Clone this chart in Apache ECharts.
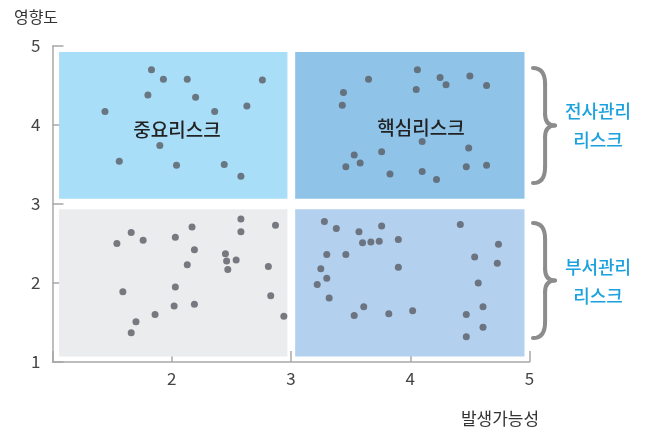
<!DOCTYPE html>
<html><head><meta charset="utf-8">
<script src="https://cdn.jsdelivr.net/npm/echarts@6/dist/echarts.min.js"></script>
<style>html,body{margin:0;padding:0;background:#fff}#c{width:649px;height:433px}</style>
</head><body><div id="c"></div>
<script>
const xTicks = [1, 2, 3, 4, 5];
const yTicks = [1, 2, 3, 4, 5];
const quadrantNames = ['중요리스크', '핵심리스크'];
const sideNames = ['전사관리\n리스크', '부서관리\n리스크'];
const xAxisName = '발생가능성';
const yAxisName = '영향도';

const pointsTopLeft = [[1.83,4.70],[1.93,4.58],[2.13,4.58],[2.76,4.57],[1.80,4.38],[2.20,4.35],[1.44,4.17],[2.36,4.17],[2.63,4.24],[1.90,3.74],[1.56,3.54],[2.04,3.49],[2.44,3.50],[2.58,3.35]];
const pointsTopRight = [[4.06,4.70],[3.65,4.58],[4.25,4.60],[4.50,4.62],[4.30,4.51],[4.64,4.50],[3.44,4.41],[4.05,4.45],[3.43,4.25],[4.10,3.79],[4.49,3.71],[3.76,3.66],[3.53,3.62],[3.58,3.52],[3.46,3.47],[4.47,3.47],[4.64,3.49],[3.83,3.38],[4.10,3.41],[4.22,3.31]];
const pointsBottomLeft = [[2.58,2.81],[2.87,2.73],[2.17,2.71],[2.58,2.65],[1.66,2.64],[2.03,2.58],[1.76,2.54],[1.54,2.50],[2.19,2.42],[2.45,2.37],[2.46,2.28],[2.54,2.29],[2.13,2.23],[2.47,2.17],[2.81,2.21],[2.03,1.95],[1.59,1.89],[2.83,1.84],[2.02,1.71],[2.19,1.73],[1.86,1.60],[2.94,1.58],[1.70,1.51],[1.66,1.37]];
const pointsBottomRight = [[3.28,2.78],[3.38,2.69],[3.57,2.65],[3.76,2.72],[3.60,2.51],[3.67,2.52],[3.74,2.53],[3.90,2.55],[3.30,2.36],[3.46,2.36],[3.25,2.18],[3.90,2.20],[3.30,2.06],[3.22,1.98],[3.32,1.81],[3.61,1.70],[3.53,1.59],[3.82,1.61],[4.02,1.65],[4.42,2.74],[4.74,2.49],[4.54,2.33],[4.73,2.25],[4.57,2.00],[4.61,1.70],[4.47,1.60],[4.61,1.44],[4.47,1.32]];

// quadrant extents (data units)
const qx = [[1.055, 2.97], [3.035, 4.958]];
const qy = [[1.07, 2.935], [3.065, 4.925]];
const qColors = { tl: '#a9def8', tr: '#8fc4e8', bl: '#ebeced', br: '#b3d1ee' };

const chart = echarts.init(document.getElementById('c'), null, { renderer: 'canvas' });
const font = '"Noto Sans CJK KR", "Noto Sans", sans-serif';

function brace(x0, y0, y1, w) {
  const h = y1 - y0, ym = (y0 + y1) / 2, xm = x0 + w * 0.55;
  const st = { stroke: '#8c8c8c', lineWidth: 4, fill: null, lineCap: 'round' };
  const bz = (a, b, c, d, e, f) => ({ type: 'bezierCurve', shape: { x1: a, y1: b, cpx1: c, cpy1: d, x2: e, y2: f }, style: st });
  const ln = (a, b, c, d) => ({ type: 'line', shape: { x1: a, y1: b, x2: c, y2: d }, style: st });
  return [
    bz(x0, y0, xm, y0, xm, y0 + h * 0.14),
    ln(xm, y0 + h * 0.14, xm, ym - h * 0.1),
    bz(xm, ym - h * 0.1, xm, ym, x0 + w, ym),
    bz(x0 + w, ym, xm, ym, xm, ym + h * 0.1),
    ln(xm, ym + h * 0.1, xm, y1 - h * 0.14),
    bz(xm, y1 - h * 0.14, xm, y1, x0, y1)
  ];
}

const ptStyle = { color: '#595d64' };
chart.setOption({
  animation: false,
  grid: { left: 52.5, right: 119.5, top: 46, bottom: 71, containLabel: false },
  xAxis: {
    type: 'value', min: xTicks[0], max: xTicks[xTicks.length - 1], interval: 1,
    axisLine: { show: true, lineStyle: { color: '#a8a8a8', width: 1.5 } },
    axisTick: { show: true, inside: true, length: 11, lineStyle: { color: '#a8a8a8', width: 1.5 } },
    axisLabel: { color: '#444', fontSize: 17, fontFamily: font, margin: 8, formatter: v => v === 1 ? '' : String(v) },
    splitLine: { show: false }
  },
  yAxis: {
    type: 'value', min: yTicks[0], max: yTicks[yTicks.length - 1], interval: 1,
    axisLine: { show: true, lineStyle: { color: '#a8a8a8', width: 1.5 } },
    axisTick: { show: true, inside: true, length: 11, lineStyle: { color: '#a8a8a8', width: 1.5 } },
    axisLabel: { color: '#444', fontSize: 17, fontFamily: font, margin: 12 },
    splitLine: { show: false }
  },
  series: [
    {
      type: 'scatter', symbolSize: 7, itemStyle: ptStyle, data: pointsTopLeft, z: 5,
      markArea: {
        silent: true,
        data: [
          [{ coord: [qx[0][0], qy[1][0]], itemStyle: { color: qColors.tl } }, { coord: [qx[0][1], qy[1][1]] }],
          [{ coord: [qx[1][0], qy[1][0]], itemStyle: { color: qColors.tr } }, { coord: [qx[1][1], qy[1][1]] }],
          [{ coord: [qx[0][0], qy[0][0]], itemStyle: { color: qColors.bl } }, { coord: [qx[0][1], qy[0][1]] }],
          [{ coord: [qx[1][0], qy[0][0]], itemStyle: { color: qColors.br } }, { coord: [qx[1][1], qy[0][1]] }]
        ]
      }
    },
    { type: 'scatter', symbolSize: 7, itemStyle: ptStyle, data: pointsTopRight, z: 5 },
    { type: 'scatter', symbolSize: 7, itemStyle: ptStyle, data: pointsBottomLeft, z: 5 },
    { type: 'scatter', symbolSize: 7, itemStyle: ptStyle, data: pointsBottomRight, z: 5 }
  ],
  graphic: [
    { type: 'text', x: 36, y: 17, style: { text: yAxisName, fontSize: 16, fontFamily: font, fill: '#333', align: 'center', verticalAlign: 'middle' } },
    { type: 'text', x: 500, y: 419, style: { text: xAxisName, fontSize: 17, fontFamily: font, fill: '#333', align: 'center', verticalAlign: 'middle' } },
    { type: 'text', x: 177, y: 130, z: 10, style: { text: quadrantNames[0], fontSize: 19, fontWeight: 500, fontFamily: font, fill: '#222', align: 'center', verticalAlign: 'middle' } },
    { type: 'text', x: 421, y: 128, z: 10, style: { text: quadrantNames[1], fontSize: 19, fontWeight: 500, fontFamily: font, fill: '#222', align: 'center', verticalAlign: 'middle' } },
    ...brace(533, 68, 183, 22),
    ...brace(533, 223, 338, 22),
    { type: 'text', x: 598, y: 126, style: { text: sideNames[0], fontSize: 18, fontWeight: 500, fontFamily: font, fill: '#1ba1de', align: 'center', verticalAlign: 'middle', lineHeight: 29 } },
    { type: 'text', x: 598, y: 282, style: { text: sideNames[1], fontSize: 18, fontWeight: 500, fontFamily: font, fill: '#1ba1de', align: 'center', verticalAlign: 'middle', lineHeight: 29 } }
  ]
});
</script></body></html>
